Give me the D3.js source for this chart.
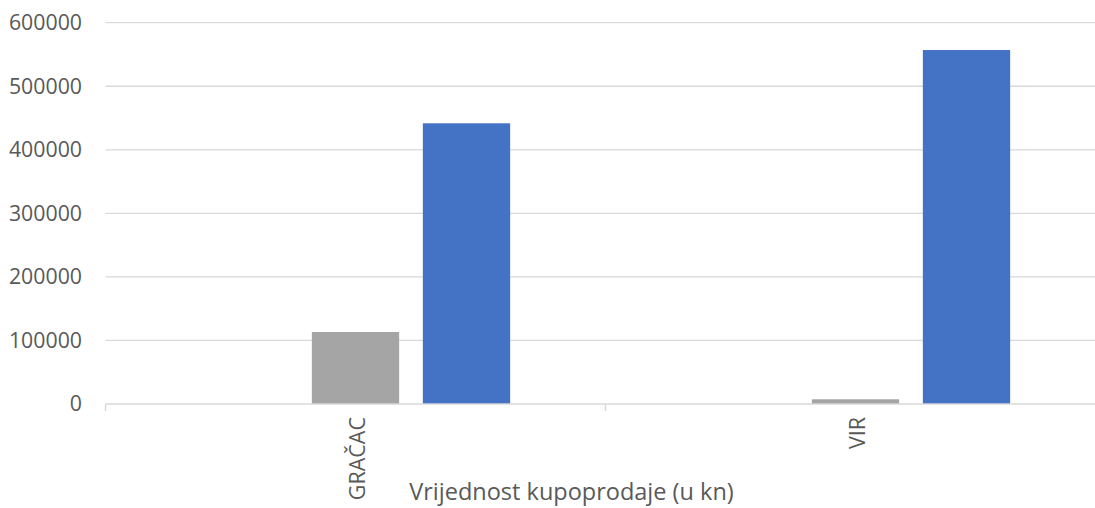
<!DOCTYPE html>
<html>
<head>
<meta charset="utf-8">
<script src="https://cdn.jsdelivr.net/npm/d3@7"></script>
<style>
  html, body { margin: 0; padding: 0; background: #fff; }
  svg { display: block; }
  text { font-family: "Open Sans", "Noto Sans", sans-serif; fill: #595959; }
</style>
</head>
<body>
<svg id="chart" width="1095" height="508"></svg>
<script>
const categories = ["GRAČAC", "VIR"];
const seriesNames = ["Serija 1", "Serija 2", "Serija 3"];
const series1 = [0, 0];
const series2 = [113300, 7400];
const series3 = [441700, 557000];
const seriesColors = ["#ED7D31", "#A5A5A5", "#4472C4"];
const yTicks = [0, 100000, 200000, 300000, 400000, 500000, 600000];
const xTitle = "Vrijednost kupoprodaje (u kn)";

const seriesValues = [series1, series2, series3];
const data = categories.map((c, i) => ({
  category: c,
  values: seriesNames.map((s, j) => ({ series: s, value: seriesValues[j][i], color: seriesColors[j] }))
}));

const svg = d3.select("#chart");
const margin = { left: 105.5, right: -10.5, top: 22.7, bottom: 104 };
const W = 1095, H = 508;
const x0 = margin.left, x1 = W - margin.right;
const yBottom = H - margin.bottom, yTop = margin.top;

const x = d3.scaleBand().domain(categories).range([x0, x1]).padding(0);
const xs = d3.scaleBand().domain(seriesNames).range([0, x.bandwidth()])
  .paddingInner(0.2135).paddingOuter(0.859);
const y = d3.scaleLinear().domain([0, 600000]).range([yBottom, yTop]);

// gridlines
svg.append("g").selectAll("line").data(yTicks.filter(t => t > 0)).join("line")
  .attr("x1", x0).attr("x2", x1)
  .attr("y1", d => y(d)).attr("y2", d => y(d))
  .attr("stroke", "#D9D9D9").attr("stroke-width", 1.3);

// y labels
svg.append("g").selectAll("text").data(yTicks).join("text")
  .attr("x", 82).attr("y", d => y(d)).attr("dy", "0.35em")
  .attr("text-anchor", "end").style("font-size", "21.3px")
  .text(d => d);

// bars
const g = svg.append("g").selectAll("g").data(data).join("g")
  .attr("transform", d => `translate(${x(d.category)},0)`);
g.selectAll("rect").data(d => d.values).join("rect")
  .attr("x", d => xs(d.series))
  .attr("width", xs.bandwidth())
  .attr("y", d => y(d.value))
  .attr("height", d => yBottom - y(d.value))
  .attr("fill", d => d.color);

// x axis line
svg.append("line").attr("x1", x0).attr("x2", x1)
  .attr("y1", yBottom).attr("y2", yBottom)
  .attr("stroke", "#D9D9D9").attr("stroke-width", 1.5);
// category boundary ticks
const bounds = categories.map(c => x(c)).concat([x1]);
svg.append("g").selectAll("line").data(bounds).join("line")
  .attr("x1", d => d).attr("x2", d => d)
  .attr("y1", yBottom).attr("y2", yBottom + 7)
  .attr("stroke", "#D9D9D9").attr("stroke-width", 1.5);

// category labels (rotated)
svg.append("g").selectAll("text").data(categories).join("text")
  .attr("transform", d => `translate(${x(d) + x.bandwidth() / 2 + 9.5},${yBottom + 13}) rotate(-90)`)
  .attr("text-anchor", "end").style("font-size", "21.5px")
  .text(d => d);

// x title
svg.append("text").attr("x", 571.5).attr("y", 500)
  .attr("text-anchor", "middle").style("font-size", "23.5px")
  .text(xTitle);
</script>
</body>
</html>
